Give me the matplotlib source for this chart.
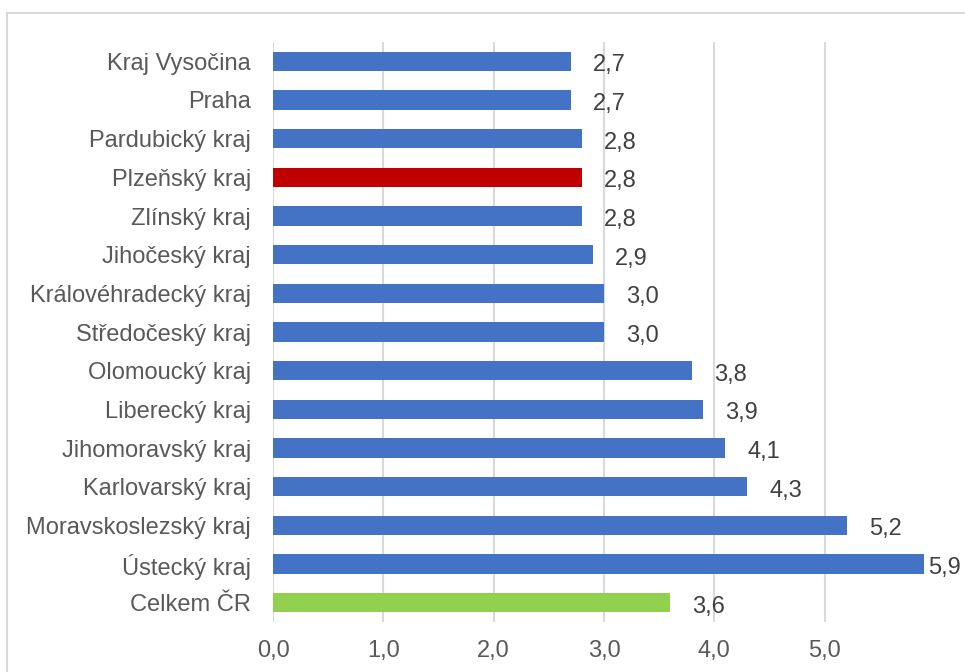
import numpy as np
import matplotlib
matplotlib.use('Agg')
import matplotlib.pyplot as plt
from matplotlib.patches import Rectangle

plt.rcParams['font.family'] = ['Liberation Sans', 'DejaVu Sans']

# data (top to bottom as in the chart)
regions = ['Kraj Vysočina', 'Praha', 'Pardubický kraj', 'Plzeňský kraj',
           'Zlínský kraj', 'Jihočeský kraj', 'Královéhradecký kraj',
           'Středočeský kraj', 'Olomoucký kraj', 'Liberecký kraj',
           'Jihomoravský kraj', 'Karlovarský kraj', 'Moravskoslezský kraj',
           'Ústecký kraj', 'Celkem ČR']
values = [2.7, 2.7, 2.8, 2.8, 2.8, 2.9, 3.0, 3.0, 3.8, 3.9, 4.1, 4.3, 5.2, 5.9, 3.6]
xticks = [0.0, 1.0, 2.0, 3.0, 4.0, 5.0]

blue, red, green = '#4472C4', '#C00000', '#92D050'
colors = [red if r == 'Plzeňský kraj' else green if r == 'Celkem ČR' else blue
          for r in regions]

fig = plt.figure(figsize=(9.65, 6.72), dpi=100)
# chart border (cut by the image on right and bottom)
fig.patches.append(Rectangle((7/965, -0.1), 1.2, 1 - 12.5/672 + 0.1,
                             transform=fig.transFigure, fill=False,
                             edgecolor='#d9d9d9', linewidth=1.5))
ax = fig.add_axes([273/965, 1 - 622/672, (924 - 273)/965, (622 - 42)/672])

y = np.arange(len(regions))
ax.barh(y, values, height=0.5, color=colors, zorder=2)
ax.set_ylim(len(regions) - 0.5, -0.5)
ax.set_xlim(0, 5.9)

ax.set_yticks(y)
ax.set_yticklabels(regions)
ax.set_xticks(xticks)
ax.set_xticklabels(['{:.1f}'.format(t).replace('.', ',') for t in xticks])
ax.tick_params(axis='y', length=0, pad=16, labelsize=17, labelcolor='#595959')
ax.tick_params(axis='x', length=0, pad=13, labelsize=17, labelcolor='#595959')

ax.grid(axis='x', color='#d9d9d9', linewidth=1.5, zorder=0)
for s in ax.spines.values():
    s.set_visible(False)

xmax = ax.get_xlim()[1]
for yi, v in zip(y, values):
    lbl = '{:.1f}'.format(v).replace('.', ',')
    dx = 4 if v >= xmax else 22
    ax.annotate(lbl, (v, yi), xytext=(dx, -10), textcoords='offset pixels',
                va='baseline', ha='left', fontsize=17, color='#404040',
                annotation_clip=False)

fig.savefig('out.png', dpi=100)
